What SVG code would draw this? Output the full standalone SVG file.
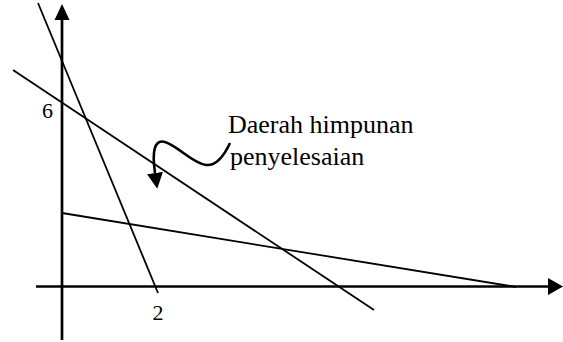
<svg xmlns="http://www.w3.org/2000/svg" width="563" height="342" viewBox="0 0 563 342">
<style>
.axis{stroke:#000;stroke-width:2.7;fill:none}
.ln{stroke:#000;stroke-width:1.8;fill:none}
.lbl{font-family:"Liberation Serif","Times New Roman",serif;fill:#000}
</style>
<defs>
<marker id="ah" markerWidth="18" markerHeight="16" refX="0" refY="8" orient="auto" markerUnits="userSpaceOnUse">
<polygon points="0,0 16,8 0,16" fill="#000"/>
</marker>
</defs>
<rect width="563" height="342" fill="#fff"/>
<g id="connectors">
<line class="axis" x1="62" y1="340" x2="62" y2="20"/>
<polygon points="62,4 54.5,20 69.5,20" fill="#000"/>
<line class="axis" x1="36" y1="286.5" x2="548" y2="286.5"/>
<polygon points="563,286.5 548,278 548,295" fill="#000"/>
<line class="ln" x1="38" y1="3" x2="158" y2="293"/>
<line class="ln" x1="13" y1="70" x2="374" y2="310"/>
<line class="ln" x1="62" y1="213" x2="516" y2="287"/>
<path class="ln" style="stroke-width:2.6" d="M230,143 C224,156 216,166 206,165 C192,163 178,146 165,142 C154,139 152,152 155,173" marker-end="url(#ah)"/>
</g>
<g id="label-6"><text class="lbl" x="47.5" y="118" font-size="22" text-anchor="middle">6</text></g>
<g id="label-2"><text class="lbl" x="158" y="320" font-size="22" text-anchor="middle">2</text></g>
<g id="label-region">
<text class="lbl" x="228" y="133" font-size="26">Daerah himpunan</text>
<text class="lbl" x="230" y="165" font-size="26">penyelesaian</text>
</g>
</svg>
